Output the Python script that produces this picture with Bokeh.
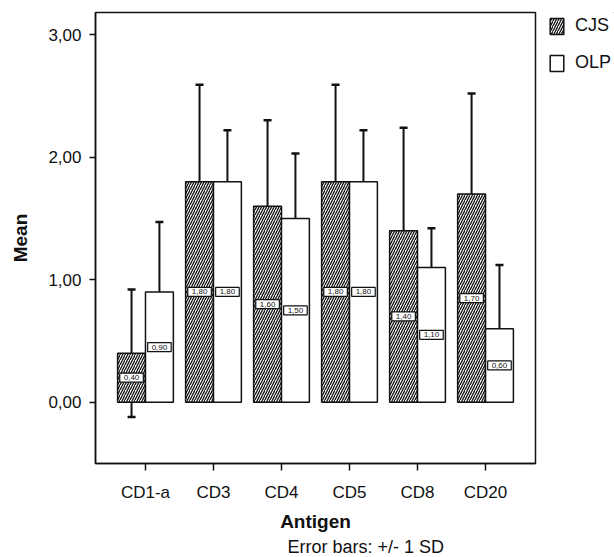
from bokeh.plotting import figure
from bokeh.layouts import row
from bokeh.models import (ColumnDataSource, FactorRange, Range1d, FixedTicker, Whisker,
                          TeeHead, Legend, LegendItem, Title)
from bokeh.transform import dodge
from bokeh.core.properties import value
from bokeh.embed import file_html
from bokeh.resources import INLINE

antigens = ["CD1-a", "CD3", "CD4", "CD5", "CD8", "CD20"]
cjs_mean = [0.40, 1.80, 1.60, 1.80, 1.40, 1.70]
olp_mean = [0.90, 1.80, 1.50, 1.80, 1.10, 0.60]
cjs_sd = [0.52, 0.79, 0.70, 0.79, 0.84, 0.82]
olp_sd = [0.57, 0.42, 0.53, 0.42, 0.32, 0.52]
y_ticks = [0, 1, 2, 3]
y_tick_labels = ["0,00", "1,00", "2,00", "3,00"]
series_names = ["CJS", "OLP"]

FONT = "Liberation Sans"
INK = "#111111"

def fmt(v):
    return f"{v:.2f}".replace(".", ",")

def make_source(means, sds):
    return ColumnDataSource(dict(
        antigen=antigens,
        mean=means,
        half=[m / 2 for m in means],
        upper=[m + s for m, s in zip(means, sds)],
        lower=[m - s for m, s in zip(means, sds)],
        label=[fmt(m) for m in means],
    ))

src_cjs = make_source(cjs_mean, cjs_sd)
src_olp = make_source(olp_mean, olp_sd)

CJS_STYLE = dict(fill_color="white", line_color=INK, line_width=1.5,
                 hatch_pattern="/", hatch_color=INK, hatch_scale=5, hatch_weight=1.3)
OLP_STYLE = dict(fill_color="white", line_color=INK, line_width=1.5)

p = figure(width=545, height=557, output_backend="svg", toolbar_location=None,
           x_range=FactorRange(factors=antigens, range_padding=0.0783),
           y_range=Range1d(-0.5, 3.18),
           min_border_left=95, min_border_right=10, min_border_top=12, min_border_bottom=94)
p.background_fill_color = "white"
p.border_fill_color = "white"
p.outline_line_color = INK
p.outline_line_width = 1.5
p.xgrid.visible = False
p.ygrid.visible = False

OFF = 0.205
W = 0.41

p.vbar(x=dodge("antigen", -OFF, range=p.x_range), top="mean", width=W, bottom=0,
       source=src_cjs, **CJS_STYLE)
p.vbar(x=dodge("antigen", OFF, range=p.x_range), top="mean", width=W, bottom=0,
       source=src_olp, **OLP_STYLE)

for src, off in ((src_cjs, -OFF), (src_olp, OFF)):
    p.text(x=dodge("antigen", off, range=p.x_range), y="half", text="label", source=src,
           text_font=value(FONT), text_font_size="8px", text_color=INK,
           text_align="center", text_baseline="middle",
           background_fill_color="white", border_line_color=INK, border_line_width=1.2,
           padding=(4, 2))

for src, off in ((src_cjs, -OFF), (src_olp, OFF)):
    w = Whisker(base=dodge("antigen", off, range=p.x_range), upper="upper", lower="lower",
                source=src, line_color=INK, line_width=2,
                upper_head=TeeHead(size=8, line_width=2.5, line_color=INK),
                lower_head=TeeHead(size=8, line_width=2.5, line_color=INK))
    p.add_layout(w)

# axes
p.yaxis.ticker = FixedTicker(ticks=y_ticks)
p.yaxis.major_label_overrides = {t: l for t, l in zip(y_ticks, y_tick_labels)}
for ax in (p.xaxis, p.yaxis):
    ax.axis_line_color = INK
    ax.axis_line_width = 1.5
    ax.major_tick_line_color = INK
    ax.major_tick_line_width = 1.5
    ax.major_tick_in = 0
    ax.minor_tick_line_color = None
    ax.major_label_text_font = FONT
    ax.major_label_text_font_size = "17px"
    ax.major_label_text_color = INK
    ax.axis_label_text_font = FONT
    ax.axis_label_text_font_size = "19px"
    ax.axis_label_text_font_style = "bold"
    ax.axis_label_text_color = INK
p.xaxis.major_tick_out = 7
p.yaxis.major_tick_out = 6
p.xaxis.major_label_standoff = 12
p.yaxis.major_label_standoff = 8
p.xaxis.axis_label = "Antigen"
p.yaxis.axis_label = "Mean"
p.xaxis.axis_label_standoff = 6
p.yaxis.axis_label_standoff = 14

note = Title(text="Error bars: +/- 1 SD", align="left", offset=192, standoff=0,
             text_font=FONT, text_font_size="18px", text_font_style="normal",
             text_color=INK)
p.add_layout(note, "below")

# legend panel (separate narrow figure to the right)
pl = figure(width=69, height=557, output_backend="svg", toolbar_location=None,
            x_range=Range1d(0, 1), y_range=Range1d(0, 1),
            min_border_left=0, min_border_right=0, min_border_top=0, min_border_bottom=0,
            x_axis_location=None, y_axis_location=None)
pl.outline_line_color = None
pl.xgrid.visible = False
pl.ygrid.visible = False
pl.background_fill_color = "white"
pl.border_fill_color = "white"
# legend-only renderers, placed outside the visible range of this small panel
lg_cjs = pl.vbar(x=[5], top=[5], bottom=[4], width=0.1, **CJS_STYLE)
lg_olp = pl.vbar(x=[5], top=[5], bottom=[4], width=0.1, **OLP_STYLE)

legend = Legend(items=[LegendItem(label=series_names[0], renderers=[lg_cjs]),
                       LegendItem(label=series_names[1], renderers=[lg_olp])],
                location=(3, 390), border_line_color=None, background_fill_alpha=0,
                margin=0, padding=0, glyph_width=17, glyph_height=20, label_height=18,
                spacing=16, label_standoff=10,
                label_text_font=FONT, label_text_font_size="18px", label_text_color=INK)
pl.add_layout(legend)

layout = row(p, pl, spacing=0)
open("out.html", "w").write(file_html(layout, INLINE))
